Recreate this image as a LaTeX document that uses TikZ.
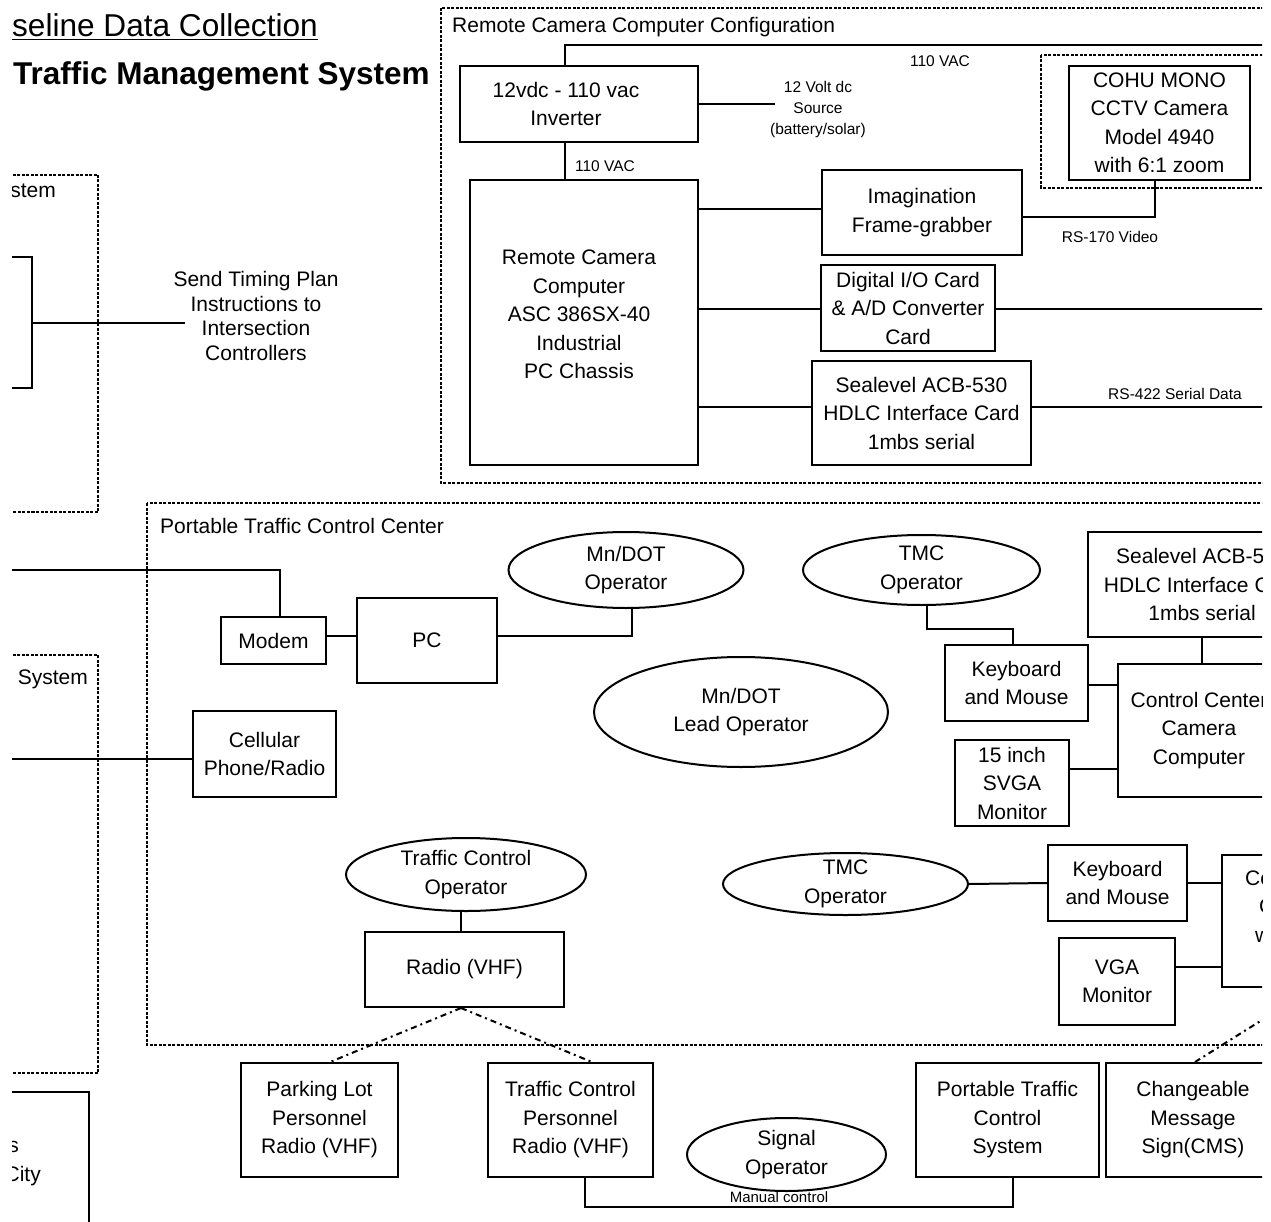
\documentclass[tikz,border=0pt]{standalone}
\usepackage{fontspec}
\setmainfont{Liberation Sans}
\usetikzlibrary{shapes.geometric,calc}
\begin{document}
\begin{tikzpicture}[x=1pt,y=-1pt,
  every node/.style={font=\fontsize{21}{28.5}\selectfont},
  box/.style={draw, line width=2pt, inner sep=0pt, align=center},
  ell/.style={draw, ellipse, line width=2pt, inner sep=0pt},
  wire/.style={line width=2pt},
  dotbox/.style={line width=1.8pt, dash pattern=on 3pt off 1.5pt},
  dashdot/.style={line width=2pt, dash pattern=on 6pt off 4pt on 2pt off 4pt},
  small/.style={font=\fontsize{15.5}{21}\selectfont, align=center, inner sep=0pt},
]
\useasboundingbox (0,0) rectangle (1271,1222);
\clip (12,0) rectangle (1262,1222);

% helper coordinates
\coordinate (x565) at (565,0);
\coordinate (x1155) at (1155,0);
\coordinate (y209) at (0,209);
\coordinate (y217) at (0,217);
\coordinate (y309) at (0,309);
\coordinate (y407) at (0,407);
\coordinate (y636) at (0,636);
\coordinate (y685) at (0,685);
\coordinate (y769) at (0,769);
\coordinate (y759) at (0,759);
\coordinate (y967) at (0,967);

% titles
\node[anchor=base east, inner sep=0pt, font=\fontsize{31.6}{36}\selectfont] (title1) at (318,37) {\underline{Baseline Data Collection}};
\node[anchor=base east, inner sep=0pt, font=\bfseries\fontsize{31.5}{36}\selectfont] (title2) at (430,85) {Traffic Management System};

% Remote camera computer configuration
\draw[dotbox] (441,8) rectangle (1300,483);
\node[anchor=west, inner sep=0pt] (rcclabel) at (452,27) {Remote Camera Computer Configuration};
\draw[dotbox] (1041,55) rectangle (1300,188);

\node[box, minimum width=238pt, minimum height=76pt, label={[align=center,xshift=-13pt]center:12vdc - 110 vac\\Inverter}] (inv) at (579,104) {};
\node[box, minimum width=228pt, minimum height=285pt, label={[align=center,xshift=-5pt,yshift=8pt]center:Remote Camera\\Computer\\ASC 386SX-40\\Industrial\\PC Chassis}] (rcc) at (584,322.5) {};
\node[box, minimum width=200pt, minimum height=85pt] (img) at (922,212.5) {Imagination\\Frame-grabber};
\node[box, minimum width=181pt, minimum height=114pt] (cohu) at (1159.5,123) {COHU MONO\\CCTV Camera\\Model 4940\\with 6:1 zoom};
\node[box, minimum width=174pt, minimum height=86pt] (dio) at (908,308) {Digital I/O Card\\\& A/D Converter\\Card};
\node[box, minimum width=219pt, minimum height=104pt] (sea1) at (921.5,413) {Sealevel ACB-530\\HDLC Interface Card\\1mbs serial};

\draw[wire] (inv.north -| x565) |- (1300,45);
\draw[wire] (inv.south -| x565) -- (rcc.north -| x565);
\node[small] (v1) at (940,61) {110 VAC};
\node[small] (v2) at (605,166) {110 VAC};
\draw[wire] (inv.east) -- (775,104);
\node[small] (src) at (818,109) {12 Volt dc\\Source\\(battery/solar)};
\draw[wire] (rcc.east |- y209) -- (img.west |- y209);
\draw[wire] (cohu.south -| x1155) |- (img.east |- y217);
\node[small] (rs170) at (1110,237) {RS-170 Video};
\draw[wire] (rcc.east |- y309) -- (dio.west |- y309);
\draw[wire] (dio.east |- y309) -- (1300,309);
\draw[wire] (rcc.east |- y407) -- (sea1.west |- y407);
\draw[wire] (sea1.east |- y407) -- (1300,407);
\node[small] (rs422) at (1175,394) {RS-422 Serial Data};

% left system box (top)
\draw[dotbox] (-10,175) -| (98,512) -- (-10,512);
\node[anchor=east, inner sep=0pt] (sys1) at (56,192) {System};
\draw[wire] (-10,257) -| (32,388) -- (-10,388);
\coordinate (brk) at (32,323);
\node[align=center, inner sep=0pt, font=\fontsize{21}{24.7}\selectfont] (stp) at (256,316) {Send Timing Plan\\Instructions to\\Intersection\\Controllers};
\draw[wire] (brk) -- (185,323);

% Portable traffic control center
\draw[dotbox] (147,503) rectangle (1300,1045);
\node[anchor=west, inner sep=0pt] (ptcclabel) at (160,526) {Portable Traffic Control Center};

\node[box, minimum width=105pt, minimum height=47pt] (modem) at (273.5,640.5) {Modem};
\node[box, minimum width=140pt, minimum height=85pt] (pc) at (427,640.5) {PC};
\node[ell, minimum width=235pt, minimum height=76pt, label={[align=center]center:Mn/DOT\\Operator}] (mndot) at (626,570) {};
\draw[wire] (-10,570) -| ($(modem.north)+(6.5,0)$);
\draw[wire] (modem.east |- y636) -- (pc.west |- y636);
\draw[wire] (pc.east |- y636) -| ($(mndot.south)+(6,0)$);

\node[ell, minimum width=237pt, minimum height=70pt, label={[align=center]center:TMC\\Operator}] (tmc1) at (921.5,570) {};
\node[box, minimum width=228pt, minimum height=105pt] (sea2) at (1202,584.5) {Sealevel ACB-530\\HDLC Interface Card\\1mbs serial};
\node[box, minimum width=143pt, minimum height=76pt] (kb1) at (1016.5,683) {Keyboard\\and Mouse};
\node[box, minimum width=162pt, minimum height=133pt] (ccc) at (1199,730.5) {Control Center\\Camera\\Computer};
\node[box, minimum width=114pt, minimum height=86pt] (svga) at (1012,783) {15 inch\\SVGA\\Monitor};
\draw[wire] ($(tmc1.south)+(5.5,0)$) -- ++(0,23) -| ($(kb1.north)+(-3.5,0)$);
\draw[wire] (kb1.east |- y685) -- (ccc.west |- y685);
\draw[wire] (sea2.south) -- (sea2.south |- ccc.north);
\draw[wire] (svga.east |- y769) -- (ccc.west |- y769);

\node[ell, minimum width=294pt, minimum height=110pt, label={[align=center]center:Mn/DOT\\Lead Operator}] (lead) at (741,712) {};

\node[box, minimum width=143pt, minimum height=86pt] (cell) at (264.5,754) {Cellular\\Phone/Radio};
\draw[wire] (-10,759) -- (cell.west |- y759);

% left system box (middle)
\draw[dotbox] (-10,655) -| (98,1073) -- (-10,1073);
\node[anchor=east, inner sep=0pt] (sys2) at (88,679) {System};

\node[ell, minimum width=240pt, minimum height=73pt, label={[align=center]center:Traffic Control\\Operator}] (tco) at (466,874.5) {};
\node[box, minimum width=199pt, minimum height=75pt] (radio) at (464.5,969.5) {Radio (VHF)};
\draw[wire] ($(tco.south)+(-5,0)$) -- ($(radio.north)+(-3.5,0)$);

\node[ell, minimum width=245pt, minimum height=62pt, label={[align=center]center:TMC\\Operator}] (tmc2) at (845.5,884) {};
\node[box, minimum width=139pt, minimum height=76pt] (kb2) at (1117.5,883) {Keyboard\\and Mouse};
\node[box, minimum width=128pt, minimum height=132pt] (ccc2) at (1286,921) {};
\node[anchor=north west, align=left, inner sep=0pt] (ccc2t) at (1245,870) {Control Center\\\hspace*{14pt}Computer\\\hspace*{10pt}with};
\draw[wire] (tmc2.east) -- (kb2.west);
\draw[wire] (kb2.east) -- (ccc2.west |- kb2.east);
\node[box, minimum width=116pt, minimum height=87pt] (vga) at (1117,981.5) {VGA\\Monitor};
\draw[wire] (vga.east |- y967) -- (ccc2.west |- y967);

% bottom row
\node[box, minimum width=157pt, minimum height=114pt] (plr) at (319.5,1120) {Parking Lot\\Personnel\\Radio (VHF)};
\node[box, minimum width=165pt, minimum height=114pt] (tcpr) at (570.5,1120) {Traffic Control\\Personnel\\Radio (VHF)};
\node[ell, minimum width=199pt, minimum height=73pt, label={[align=center]center:Signal\\Operator}] (sig) at (786.5,1154.5) {};
\node[box, minimum width=183pt, minimum height=114pt] (ptcs) at (1007.5,1120) {Portable Traffic\\Control\\System};
\node[box, minimum width=174pt, minimum height=114pt] (cms) at (1193,1120) {Changeable\\Message\\Sign(CMS)};
\draw[dashdot] ($(radio.south)+(-3.5,0)$) -- ($(plr.north)+(10.5,0)$);
\draw[dashdot] ($(radio.south)+(-3.5,0)$) -- ($(tcpr.north)+(21.5,0)$);
\draw[wire] ($(tcpr.south)+(14.5,0)$) -- ++(0,29) -| ($(ptcs.south)+(5.5,0)$);
\node[small, font=\fontsize{15}{18}\selectfont] (manual) at (779,1197) {Manual control};
\draw[dashdot] ($(cms.north)+(2,0)$) -- ($(ccc2.south)+(27,0)$);

% bottom-left box
\draw[wire] (-10,1092) -| (89,1240);
\node[anchor=base east, inner sep=0pt] (bl1) at (19,1152) {Systems};
\node[anchor=base east, inner sep=0pt] (bl2) at (41,1181) {City};
\end{tikzpicture}
\end{document}
